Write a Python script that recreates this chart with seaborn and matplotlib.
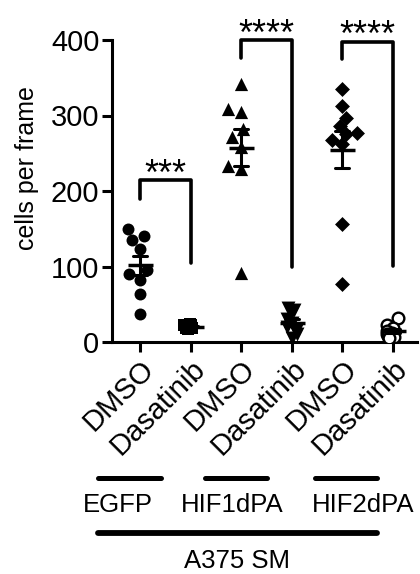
import numpy as np
import pandas as pd
import matplotlib
matplotlib.use("Agg")
import matplotlib.pyplot as plt
import seaborn as sns
from matplotlib.lines import Line2D

sns.set_style("ticks")
plt.rcParams['font.family'] = ['Liberation Sans', 'DejaVu Sans']
for k in ['text.color', 'axes.labelcolor', 'xtick.color', 'ytick.color', 'axes.edgecolor']:
    plt.rcParams[k] = 'black'

# data
conditions = ['DMSO', 'Dasatinib', 'DMSO ', 'Dasatinib ', 'DMSO  ', 'Dasatinib  ']
tick_labels = ['DMSO', 'Dasatinib', 'DMSO', 'Dasatinib', 'DMSO', 'Dasatinib']
egfp_dmso = [150, 140, 135, 123, 95, 90, 82, 64, 37]
egfp_dasa = [24, 23, 22, 21, 20, 20, 19, 18, 17]
hif1_dmso = [342, 308, 304, 282, 271, 258, 233, 229, 91]
hif1_dasa = [45, 42, 40, 30, 25, 20, 15, 10, 5]
hif2_dmso = [335, 313, 297, 286, 277, 275, 268, 262, 156, 77]
hif2_dasa = [32, 22, 18, 15, 12, 10, 8, 6, 5]
groups = ['EGFP', 'HIF1dPA', 'HIF2dPA']
stars = ['***', '****', '****']

series = [egfp_dmso, egfp_dasa, hif1_dmso, hif1_dasa, hif2_dmso, hif2_dasa]
df = pd.concat([pd.DataFrame({'cond': c, 'cells': v}) for c, v in zip(conditions, series)],
               ignore_index=True)

W, H = 420, 574
fig = plt.figure(figsize=(W / 100, H / 100), dpi=100)
ax = fig.add_axes([112 / W, 1 - 342 / H, (417 - 112) / W, (342 - 40) / H])

np.random.seed(2)
markers = ['o', 's', '^', 'v', 'D', 'o']
sizes = [8.6, 8.2, 9.5, 10, 7.6, 8.4]
for i, (c, m, s) in enumerate(zip(conditions, markers, sizes)):
    sub = df[df['cond'] == c]
    open_mk = c == conditions[-1]
    kw = dict(data=sub, x='cond', y='cells', order=conditions, ax=ax,
              marker=m, size=s, color='white' if open_mk else 'black',
              edgecolor='black', linewidth=1.7 if open_mk else 0, zorder=3)
    if i % 2 == 0:
        sns.swarmplot(**kw)
    else:
        # treated groups sit in a tight clump
        sns.stripplot(jitter=0.14, **kw)

# mean +/- SEM
sns.pointplot(data=df, x='cond', y='cells', order=conditions, ax=ax,
              errorbar='se', capsize=0.28, linestyle='none', marker='_',
              markersize=18, markeredgewidth=2.5, color='black',
              err_kws={'linewidth': 2.2}, zorder=4)

ax.set_xlim(-0.553, 5.474)
ax.set_ylim(0, 400)
ax.set_yticks([0, 100, 200, 300, 400])
ax.set_xticks(range(6))
ax.set_xticklabels(tick_labels, rotation=45, ha='right', rotation_mode='anchor')
ax.set_xlabel('')
ax.set_ylabel('cells per frame', fontsize=18)
ax.yaxis.set_label_coords(-0.24, 0.575)
ax.tick_params(labelsize=21, width=2.2, length=7, color='black', pad=2)
sns.despine(ax=ax)
for sp in ['left', 'bottom']:
    ax.spines[sp].set_linewidth(2.2)

# significance brackets
brackets = [(0, 1, 214, 190, 105), (2, 3, 400, 376, 99), (4, 5, 398, 375, 101)]
for (x1, x2, top, left_end, right_end), st in zip(brackets, stars):
    ax.plot([x1, x1, x2, x2], [left_end, top, top, right_end], color='black',
            lw=2.6, clip_on=False, solid_joinstyle='round', solid_capstyle='round')
    ax.text((x1 + x2) / 2, top - 6, st, ha='center', va='baseline', fontsize=26,
            clip_on=False)

# group annotation below the axis
def fx(px):
    return px / W

def fy(py):
    return 1 - py / H

for (x1, x2), g, cx in zip([(98, 161), (205, 267), (315, 377)], groups, [118, 232, 363]):
    fig.add_artist(Line2D([fx(x1), fx(x2)], [fy(478), fy(478)], color='black', lw=3.6))
    fig.text(fx(cx), fy(505), g, ha='center', va='center', fontsize=18.5)
fig.add_artist(Line2D([fx(98), fx(377)], [fy(533), fy(533)], color='black', lw=4.2))
fig.text(fx(237), fy(561), 'A375 SM', ha='center', va='center', fontsize=18.5)

fig.savefig('out.png', dpi=100)
